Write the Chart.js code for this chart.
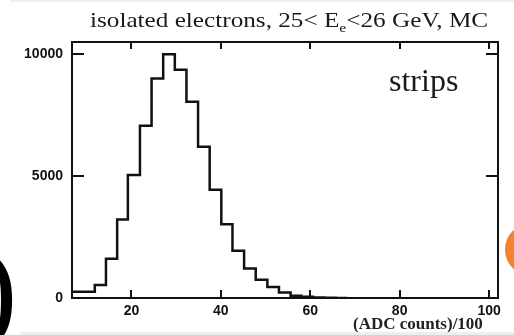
<!DOCTYPE html>
<html>
<head>
<meta charset="utf-8">
<script src="https://cdn.jsdelivr.net/npm/chart.js@4.4.1/dist/chart.umd.min.js"></script>
<style>
  html, body { margin: 0; padding: 0; background: #fff; }
  #wrap { position: relative; width: 514px; height: 335px; overflow: hidden; }
  #c { position: absolute; left: 0; top: 0; }
  .txt { position: absolute; font-family: "Liberation Serif", "Times New Roman", serif; color: #1a1a1a; white-space: nowrap; }
  #title { left: 90px; top: 8px; font-size: 21px; transform: scaleX(1.2); transform-origin: left top; }
  #title sub { font-size: 13px; vertical-align: -5px; line-height: 0; }
  #strips { left: 389px; top: 62px; font-size: 32px; }
  #xlabel { left: 353px; top: 314px; font-size: 17px; font-weight: bold; color: #222; }
  #paren { left: -22px; top: 222px; font-size: 118px; color: #000; }
  #orange { position: absolute; left: 505px; top: 223px; width: 53px; height: 53px; border-radius: 50%; background: #f5822a; }
  #bline { position: absolute; left: 20px; top: 332px; width: 494px; height: 3px; background: #eeeeee; }
  #tline { position: absolute; left: 10px; top: 0px; width: 504px; height: 2px; background: #f0f0f0; }
</style>
</head>
<body>
<div id="wrap">
  <div id="tline"></div>
  <canvas id="c" width="514" height="335"></canvas>
  <div class="txt" id="title">isolated electrons, 25&lt; E<sub>e</sub>&lt;26 GeV, MC</div>
  <div class="txt" id="strips">strips</div>
  <div class="txt" id="xlabel">(ADC counts)/100</div>
  <div class="txt" id="paren">)</div>
  <div id="orange"></div>
  <div id="bline"></div>
</div>
<script>
// bin edges (ADC counts / 100) and counts per bin
const binEdges = [6.7, 11.8, 14.3, 16.8, 19.2, 21.9, 24.5, 27.1, 29.7, 32.3, 34.9, 37.5, 40.1,
                  42.6, 45.2, 47.8, 50.4, 53.0, 55.6, 58.0, 60.6, 63.2, 65.7, 68.3];
const counts = [260, 530, 1610, 3220, 5050, 7060, 9000, 10000, 9360, 8050, 6200, 4440,
                3030, 1940, 1215, 750, 450, 230, 95, 50, 25, 10, 0];
const xTicks = [20, 40, 60, 80, 100];
const yTicks = [0, 5000, 10000];

const points = counts.map((v, i) => ({ x: binEdges[i], y: v }));
points.push({ x: binEdges[binEdges.length - 1], y: 0 });

// axis frame and inward tick marks, ROOT style
const framePlugin = {
    id: "frame",
    afterDatasetsDraw(chart) {
        const { ctx, chartArea: a, scales } = chart;
        ctx.save();
        ctx.strokeStyle = "#111";
        ctx.lineWidth = 2;
        ctx.strokeRect(a.left, a.top, a.right - a.left, a.bottom - a.top);
        ctx.beginPath();
        xTicks.forEach(t => {
            const px = Math.round(scales.x.getPixelForValue(t));
            ctx.moveTo(px, a.bottom); ctx.lineTo(px, a.bottom - 8);
            ctx.moveTo(px, a.top); ctx.lineTo(px, a.top + 7);
        });
        yTicks.forEach(t => {
            const py = Math.round(scales.y.getPixelForValue(t));
            ctx.moveTo(a.left, py); ctx.lineTo(a.left + 12, py);
            ctx.moveTo(a.right, py); ctx.lineTo(a.right - 12, py);
        });
        ctx.stroke();
        ctx.restore();
    }
};

const tickFont = { family: "Liberation Sans", size: 14, weight: "bold" };

new Chart(document.getElementById("c"), {
    type: "line",
    data: {
        datasets: [{
            data: points,
            stepped: "before",
            borderColor: "#111",
            borderWidth: 2.5,
            pointRadius: 0,
            fill: false
        }]
    },
    options: {
        responsive: false,
        animation: false,
        layout: { padding: { left: 0, top: 42, right: 16, bottom: 0 } },
        plugins: { legend: { display: false }, tooltip: { enabled: false } },
        scales: {
            x: {
                type: "linear",
                min: 6.7,
                max: 102,
                afterBuildTicks: s => { s.ticks = xTicks.map(v => ({ value: v })); },
                afterFit: s => { s.height = 37; },
                grid: { display: false, drawTicks: false },
                border: { display: false },
                ticks: {
                    padding: 5,
                    color: "#111",
                    font: tickFont,
                    callback: v => String(v)
                }
            },
            y: {
                min: 0,
                max: 10500,
                afterBuildTicks: s => { s.ticks = yTicks.map(v => ({ value: v })); },
                afterFit: s => { s.width = 72; },
                grid: { display: false, drawTicks: false },
                border: { display: false },
                ticks: {
                    padding: 9,
                    color: "#111",
                    font: tickFont,
                    callback: v => String(v)
                }
            }
        }
    },
    plugins: [framePlugin]
});
</script>
</body>
</html>
